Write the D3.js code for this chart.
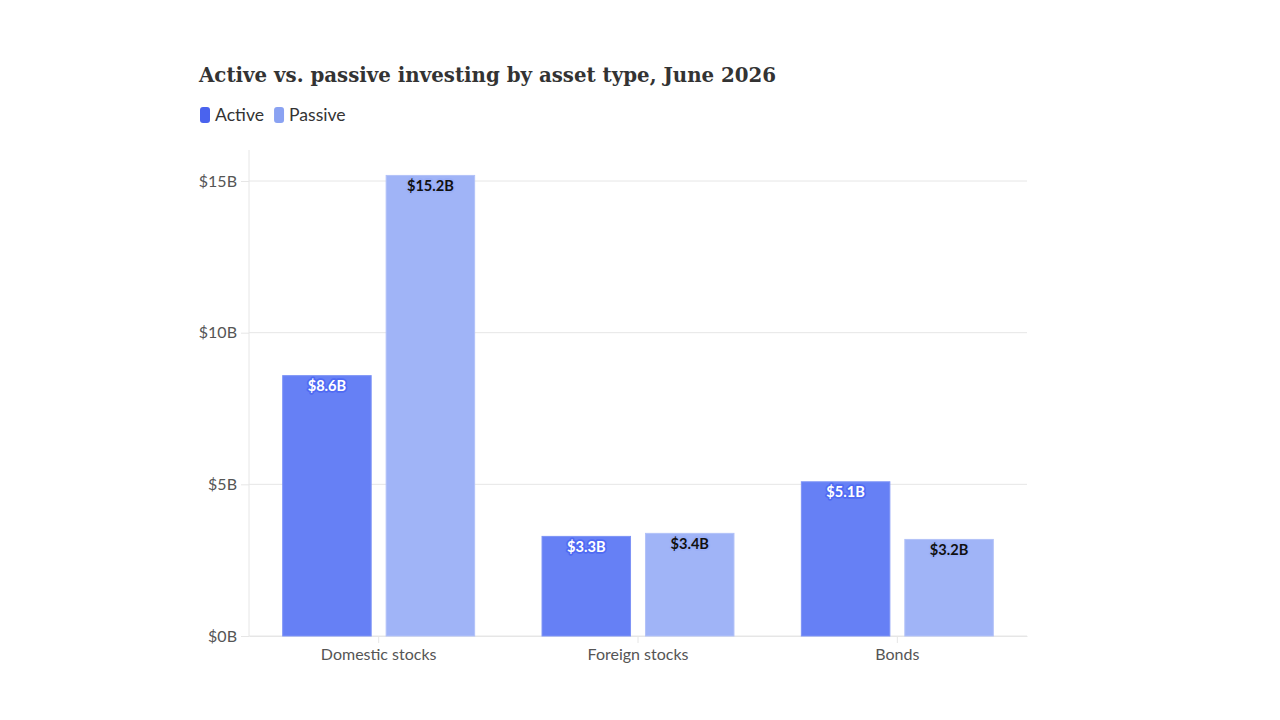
<!DOCTYPE html>
<html>
<head>
<meta charset="utf-8">
<script src="https://cdn.jsdelivr.net/npm/d3@7"></script>
<style>
  html, body { margin: 0; padding: 0; background: #fff; }
  svg { display: block; }
</style>
</head>
<body>
<svg id="chart" width="1280" height="720"></svg>
<script>
const categories = ["Domestic stocks", "Foreign stocks", "Bonds"];
const seriesNames = ["Active", "Passive"];
const activeValues = [8.6, 3.3, 5.1];
const passiveValues = [15.2, 3.4, 3.2];
const yTicks = [0, 5, 10, 15];
const titleText = "Active vs. passive investing by asset type, June 2026";

const seriesColors = { Active: "#4a63ee", Passive: "#8aa2f2" };
const barFill = { Active: "#6680f5", Passive: "#a0b4f7" };
const barStroke = { Active: "#7d93f6", Passive: "#b2c2f8" };
const labelFill = { Active: "#ffffff", Passive: "#111111" };
const labelHalo = { Active: "#4f6af3", Passive: "#9aaff7" };

const rows = categories.map((c, i) => ({
  category: c,
  values: [
    { series: "Active", value: activeValues[i] },
    { series: "Passive", value: passiveValues[i] }
  ]
}));

const svg = d3.select("#chart");
const margin = { left: 249, right: 253, top: 150, bottom: 84 };
const W = 1280, H = 720;
const x0 = d3.scaleBand().domain(categories).range([margin.left, W - margin.right]).paddingInner(0.256).paddingOuter(0.128);
const x1 = d3.scaleBand().domain(seriesNames).range([0, x0.bandwidth()]).paddingInner(0.135);
const y = d3.scaleLinear().domain([0, 15]).range([636, 181]);

// Title
svg.append("text")
  .attr("x", 199).attr("y", 82)
  .attr("font-family", "'DejaVu Serif', serif")
  .attr("font-weight", "bold")
  .attr("font-size", 19.8)
  .attr("fill", "#333")
  .text(titleText);

// Legend
const legend = svg.append("g").attr("font-family", "Lato, sans-serif").attr("font-size", 17.6).attr("fill", "#333");
let lx = 200;
seriesNames.forEach(s => {
  legend.append("rect").attr("x", lx).attr("y", 107).attr("width", 10).attr("height", 16).attr("rx", 3).attr("fill", seriesColors[s]);
  const t = legend.append("text").attr("x", lx + 15).attr("y", 121).text(s);
  lx += 15 + t.node().getComputedTextLength() + 10;
});

// Gridlines
svg.append("g").selectAll("line").data(yTicks).join("line")
  .attr("x1", margin.left).attr("x2", W - margin.right)
  .attr("y1", d => y(d)).attr("y2", d => y(d))
  .attr("stroke", "#e6e6e6").attr("stroke-width", 1);

// Y axis
const yAxis = svg.append("g").attr("transform", `translate(${margin.left},0)`)
  .call(d3.axisLeft(y).tickValues(yTicks).tickFormat(d => `$${d}B`).tickSize(8).tickPadding(4));
yAxis.select(".domain").remove();
yAxis.append("line").attr("x1", 0).attr("x2", 0).attr("y1", margin.top).attr("y2", 636).attr("stroke", "#e6e6e6");
yAxis.selectAll(".tick line").attr("stroke", "#e6e6e6");
yAxis.selectAll(".tick text").attr("font-family", "Lato, sans-serif").attr("font-size", 16).attr("fill", "#555");

// X axis
const xAxis = svg.append("g").attr("transform", `translate(0,636)`)
  .call(d3.axisBottom(x0).tickSize(7).tickPadding(6).tickSizeOuter(0));
xAxis.select(".domain").attr("stroke", "#e6e6e6");
xAxis.selectAll(".tick line").attr("stroke", "#e6e6e6");
xAxis.selectAll(".tick text").attr("font-family", "Lato, sans-serif").attr("font-size", 16).attr("fill", "#555");

// Bars
const groups = svg.append("g").selectAll("g").data(rows).join("g")
  .attr("transform", d => `translate(${x0(d.category)},0)`);
groups.selectAll("rect").data(d => d.values).join("rect")
  .attr("x", d => x1(d.series) + 0.5)
  .attr("y", d => y(d.value) + 0.5)
  .attr("width", x1.bandwidth() - 1)
  .attr("height", d => y(0) - y(d.value) - 0.5)
  .attr("fill", d => barFill[d.series])
  .attr("stroke", d => barStroke[d.series])
  .attr("stroke-width", 1);

// Labels
groups.selectAll("text.val").data(d => d.values).join("text")
  .attr("class", "val")
  .attr("x", d => x1(d.series) + x1.bandwidth() / 2)
  .attr("y", d => y(d.value) + 16)
  .attr("text-anchor", "middle")
  .attr("font-family", "Lato, sans-serif")
  .attr("font-weight", "bold")
  .attr("font-size", 14.6)
  .attr("fill", d => labelFill[d.series])
  .attr("stroke", d => labelHalo[d.series])
  .attr("stroke-width", 3.5)
  .attr("stroke-linejoin", "round")
  .attr("paint-order", "stroke")
  .text(d => `$${d.value.toFixed(1)}B`);
</script>
</body>
</html>
